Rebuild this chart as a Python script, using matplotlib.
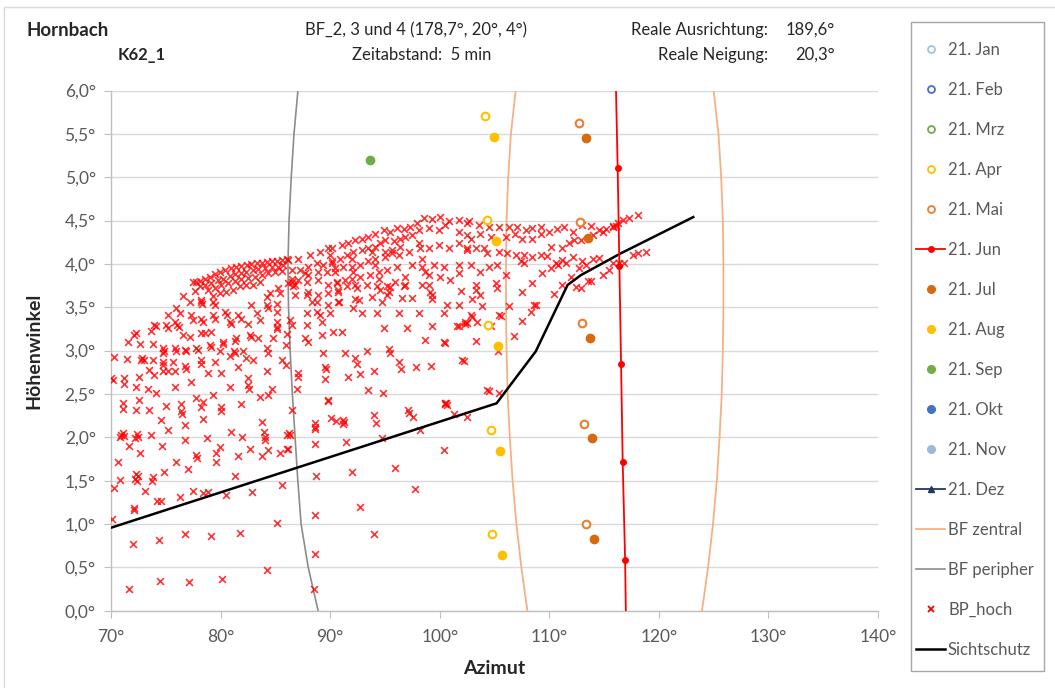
import matplotlib.pyplot as plt
from matplotlib.lines import Line2D
from matplotlib.patches import Rectangle
from matplotlib.ticker import FuncFormatter, MultipleLocator

plt.rcParams['font.family'] = ['Lato', 'DejaVu Sans']

# Sonnenpositionen (Azimut, Hoehenwinkel)
apr_az = [104.12, 104.34, 104.43, 104.64, 104.80]
apr_alt = [5.71, 4.51, 3.30, 2.08, 0.88]
mai_az = [112.73, 112.82, 113.00, 113.19, 113.34]
mai_alt = [5.63, 4.48, 3.32, 2.15, 1.00]
jun_az = [117.05, 116.92, 116.70, 116.55, 116.40, 116.24, 116.05]
jun_alt = [-0.55, 0.585, 1.71, 2.85, 3.98, 5.11, 6.24]
jul_az = [113.34, 113.50, 113.68, 113.86, 114.05]
jul_alt = [5.45, 4.30, 3.14, 1.99, 0.83]
aug_az = [104.95, 105.16, 105.35, 105.47, 105.65]
aug_alt = [5.46, 4.26, 3.05, 1.84, 0.64]
sep_az = [93.6]
sep_alt = [5.20]

# Blendfeld-Grenzen
bf_alt = [6.0, 5.5, 5.0, 4.5, 4.0, 3.5, 3.0, 2.5, 2.0, 1.5, 1.0, 0.5, 0.0]
bf_zentral_links = [106.93, 106.50, 106.25, 106.10, 106.05, 106.05, 106.10, 106.20, 106.40, 106.65, 107.00, 107.45, 108.00]
bf_zentral_rechts = [125.00, 125.44, 125.69, 125.84, 125.89, 125.89, 125.84, 125.74, 125.54, 125.29, 124.94, 124.49, 123.94]
bf_peripher = [87.06, 86.70, 86.45, 86.25, 86.15, 86.20, 86.35, 86.55, 86.80, 87.05, 87.35, 88.00, 88.90]

# Sichtschutz-Kante
sicht_az = [70.0, 105.19, 108.76, 111.67, 112.88, 116.5, 123.14]
sicht_alt = [0.957, 2.392, 2.99, 3.757, 3.87, 4.12, 4.54]

# BP_hoch Punkte (Azimut, Hoehenwinkel)
bp_hoch = [
    (71.07, 2.39), (71.07, 2.33), (72.29, 2.31), (73.51, 2.32), (75.04, 2.36), (76.4, 2.38), (76.4, 2.30),
    (76.45, 2.27), (78.24, 2.35), (78.4, 2.41), (80.07, 2.35), (80.07, 2.30), (81.9, 2.38),
    (74.58, 2.20), (76.72, 2.14), (78.4, 2.21), (75.19, 2.08), (70.8, 2.0), (70.95, 2.03), (71.1, 2.05),
    (71.2, 2.01), (72.2, 1.99), (72.35, 2.04), (72.45, 2.0), (73.66, 2.03), (71.68, 1.90), (72.69, 1.82),
    (74.64, 1.90), (76.72, 1.97), (78.79, 1.99), (80.99, 2.06), (82.0, 2.0), (83.74, 2.18), (84.0, 2.06),
    (84.04, 2.0), (84.1, 1.97), (86.03, 2.03),
    (79.92, 1.89), (79.62, 1.82), (79.62, 1.72), (81.6, 1.78), (82.67, 1.87), (84.29, 1.85), (83.74, 1.78),
    (85.42, 1.82), (86.03, 1.87), (70.61, 1.71), (77.75, 1.80), (77.85, 1.76), (75.95, 1.71), (77.02, 1.63),
    (74.82, 1.60), (72.2, 1.52), (72.3, 1.58), (72.4, 1.50), (72.45, 1.55), (73.8, 1.54), (73.7, 1.50),
    (70.82, 1.51), (70.3, 1.42), (73.11, 1.38), (77.48, 1.38), (78.4, 1.36), (78.85, 1.37), (76.26, 1.31),
    (74.2, 1.26), (74.6, 1.26), (81.3, 1.55), (80.53, 1.34), (82.88, 1.37), (85.57, 1.45), (72.14, 1.19),
    (72.14, 1.16), (70.06, 1.06), (85.11, 1.01), (72.05, 0.77), (74.34, 0.82), (76.72, 0.88), (79.1, 0.86),
    (81.81, 0.90), (84.2, 0.47), (71.68, 0.25), (74.49, 0.34), (77.08, 0.33), (80.17, 0.37),
    (86.54, 2.32), (89.84, 2.42), (88.6, 2.16), (88.6, 2.12), (88.65, 2.09), (90.08, 2.22), (90.51, 2.19),
    (91.2, 2.2), (91.2, 2.15), (91.3, 2.18), (94.02, 2.26), (94.17, 2.16), (97.07, 2.31), (97.23, 2.28),
    (97.53, 2.23), (100.46, 2.38), (100.6, 2.40), (100.67, 2.37), (101.28, 2.27), (102.5, 2.23), (86.2, 2.05),
    (86.33, 2.03), (86.11, 1.86), (88.6, 1.92), (91.46, 1.95), (94.72, 1.99), (98.23, 2.08), (100.37, 1.85),
    (88.68, 1.55), (91.98, 1.60), (95.94, 1.65), (97.71, 1.40), (92.74, 1.20), (88.62, 1.10), (93.96, 0.88),
    (88.62, 0.65), (88.56, 0.25),
    (77.5, 3.79), (77.8, 3.79), (78.1, 3.80), (78.55, 3.83), (79.0, 3.85), (79.46, 3.88), (79.92, 3.91),
    (80.38, 3.93), (80.99, 3.95), (81.45, 3.97), (81.91, 3.98), (82.37, 3.99), (82.82, 4.0), (83.28, 4.01),
    (83.74, 4.01), (84.2, 4.02), (84.65, 4.03), (85.11, 4.03), (85.57, 4.04), (86.03, 4.06),
    (78.09, 3.74), (78.55, 3.76), (79.16, 3.78), (79.77, 3.81), (80.23, 3.83), (80.84, 3.86), (81.3, 3.88),
    (81.91, 3.89), (82.36, 3.91), (82.97, 3.93), (83.43, 3.94), (84.04, 3.95), (84.65, 3.96), (85.26, 3.97),
    (85.72, 3.99),
    (77.63, 3.69), (78.85, 3.70), (79.46, 3.72), (80.07, 3.76), (80.68, 3.78), (81.3, 3.80), (81.91, 3.83),
    (82.52, 3.84), (83.13, 3.85), (83.74, 3.87), (84.35, 3.89), (84.96, 3.91), (85.57, 3.92),
    (76.56, 3.63), (78.24, 3.58), (79.31, 3.63), (79.92, 3.66), (80.53, 3.68), (81.14, 3.70), (81.75, 3.74),
    (82.36, 3.76), (82.97, 3.76), (83.58, 3.79), (84.2, 3.62), (84.5, 3.67), (85.26, 3.72), (85.42, 3.67),
    (77.17, 3.56), (78.24, 3.56), (78.3, 3.54), (79.3, 3.56), (79.46, 3.53), (75.95, 3.49), (76.26, 3.43),
    (75.19, 3.41), (77.33, 3.41), (77.48, 3.35), (78.24, 3.37), (78.4, 3.33), (79.3, 3.41), (79.46, 3.37),
    (80.38, 3.45), (80.62, 3.41), (81.6, 3.41), (81.9, 3.37), (82.52, 3.31), (83.58, 3.35), (85.11, 3.33),
    (85.11, 3.27), (85.15, 3.25), (85.11, 3.44), (85.11, 3.54), (84.2, 3.53), (84.35, 3.49), (83.28, 3.43),
    (82.82, 3.53), (80.84, 3.33), (80.99, 3.31),
    (73.97, 3.30), (74.12, 3.28), (75.04, 3.29), (75.19, 3.26), (76.04, 3.30), (76.17, 3.27), (72.29, 3.20),
    (72.14, 3.18), (73.66, 3.23), (75.8, 3.33),
    (76.56, 3.18), (77.17, 3.16), (78.24, 3.20), (78.55, 3.20), (79.16, 3.22), (80.23, 3.10), (80.25, 3.08),
    (81.45, 3.14), (81.36, 3.11), (82.67, 3.18), (82.82, 3.16), (83.43, 3.14), (84.8, 3.14), (86.03, 3.19),
    (71.53, 3.10), (72.69, 3.08), (73.82, 3.08), (74.73, 3.03), (74.88, 2.99), (74.75, 2.97), (75.8, 3.03),
    (75.95, 3.0), (76.72, 3.01), (76.87, 2.99), (77.78, 3.03), (77.94, 3.01), (79.0, 3.06), (79.16, 3.04),
    (79.92, 2.99), (81.3, 2.97), (81.25, 2.99), (82.06, 2.99), (70.3, 2.93), (71.47, 2.90), (72.8, 2.91),
    (73.0, 2.89), (72.75, 2.89), (73.82, 2.89), (74.73, 2.87), (74.73, 2.83), (75.65, 2.87), (76.72, 2.82),
    (76.87, 2.79), (78.24, 2.89), (78.24, 2.85), (79.46, 2.87), (80.84, 2.94), (81.6, 2.81), (82.36, 2.91),
    (84.2, 3.03), (84.35, 2.97), (82.97, 2.89), (85.57, 2.89),
    (70.0, 2.68), (70.15, 2.66), (71.22, 2.68), (71.22, 2.62), (72.6, 2.70), (72.29, 2.58), (73.51, 2.78),
    (73.97, 2.72), (74.73, 2.77), (75.19, 2.77), (75.8, 2.77), (77.33, 2.64), (78.85, 2.74), (80.07, 2.74),
    (80.84, 2.58), (82.52, 2.68), (82.52, 2.60), (82.55, 2.56), (84.2, 2.76), (84.65, 2.56), (73.36, 2.56),
    (74.12, 2.51), (75.8, 2.58), (77.78, 2.45), (79.3, 2.49), (83.58, 2.46), (84.35, 2.49), (72.6, 2.43),
    (98.54, 4.53), (99.3, 4.52), (100.06, 4.54), (100.83, 4.49), (101.74, 4.51), (102.5, 4.47), (97.93, 4.47),
    (97.32, 4.43), (96.71, 4.40), (96.1, 4.41), (95.49, 4.37), (94.88, 4.39), (94.11, 4.35), (93.5, 4.31),
    (92.89, 4.29), (92.28, 4.28), (91.67, 4.24), (91.06, 4.22), (90.14, 4.18), (89.08, 4.14), (88.16, 4.10),
    (87.09, 4.06), (86.18, 4.04),
    (99.0, 4.41), (99.91, 4.39), (100.52, 4.45), (101.74, 4.37), (102.5, 4.33), (98.08, 4.39), (97.47, 4.33),
    (96.86, 4.31), (96.4, 4.29), (95.79, 4.26), (95.03, 4.28), (94.57, 4.24), (94.11, 4.20), (93.5, 4.18),
    (92.89, 4.16), (92.13, 4.14), (91.52, 4.10), (90.91, 4.06), (90.14, 4.03), (89.38, 3.99), (88.77, 4.01),
    (88.01, 3.97), (87.24, 3.93), (86.48, 3.93),
    (98.08, 4.24), (99.0, 4.18), (99.91, 4.22), (100.83, 4.18), (101.74, 4.24), (102.5, 4.16), (97.16, 4.14),
    (96.4, 4.20), (95.64, 4.12), (95.03, 4.08), (94.11, 4.06), (93.5, 4.03), (92.74, 3.99), (91.98, 3.97),
    (91.21, 3.97), (90.45, 3.95), (89.69, 3.91), (88.92, 3.91), (88.01, 3.87), (87.09, 3.81), (86.48, 3.79),
    (97.47, 3.99), (98.38, 3.97), (99.45, 3.99), (100.37, 3.97), (101.74, 3.99), (99.0, 3.87), (100.06, 3.85),
    (100.98, 3.81), (101.74, 3.89), (96.1, 3.97), (95.18, 3.93), (94.42, 3.91), (93.65, 3.87), (92.74, 3.85),
    (91.98, 3.83), (91.36, 3.81), (90.6, 3.78), (89.84, 3.76), (88.92, 3.81),
    (96.86, 3.85), (95.94, 3.79), (95.18, 3.74), (94.27, 3.74), (93.35, 3.76), (92.28, 3.76), (91.52, 3.74),
    (90.75, 3.70), (89.84, 3.66), (88.92, 3.64), (87.85, 3.64), (86.79, 3.76), (86.18, 3.78),
    (98.38, 3.76), (99.15, 3.68), (101.9, 3.69),
    (99.3, 3.60), (97.47, 3.61), (96.55, 3.61), (95.49, 3.73), (93.81, 3.62), (92.28, 3.60), (90.75, 3.56),
    (89.84, 3.53), (88.77, 3.56), (87.85, 3.43), (86.33, 3.35),
    (101.74, 3.53), (100.68, 3.53), (98.08, 3.43), (96.25, 3.43), (94.27, 3.43), (92.89, 3.43), (92.13, 3.49),
    (89.99, 3.43), (89.23, 3.33), (87.85, 3.29), (87.7, 3.14), (86.48, 3.29),
    (94.88, 3.26), (97.01, 3.26), (98.69, 3.12), (100.37, 3.10), (101.74, 3.28), (102.35, 3.31), (90.3, 3.22),
    (91.06, 3.22), (89.23, 3.18), (88.01, 3.10),
    (89.38, 2.97), (91.36, 2.97), (93.35, 2.99), (95.33, 3.02), (95.49, 2.97), (89.53, 2.81), (89.6, 2.79),
    (87.09, 2.74), (87.09, 2.70), (92.28, 2.91), (92.43, 2.84), (93.96, 2.77), (92.74, 2.73), (96.25, 2.87),
    (96.49, 2.79), (97.84, 2.81), (99.24, 2.82), (102.05, 2.89), (89.53, 2.67), (91.67, 2.70), (86.94, 2.56),
    (93.5, 2.54), (94.78, 2.51), (89.84, 2.43), (100.52, 2.39), (86.0, 3.06), (86.0, 2.83),
    # diagonale Streifen im dichten Bereich
    (89.84, 4.18), (90.0, 4.10), (90.14, 4.01), (90.45, 3.91), (90.6, 3.79), (90.75, 3.68), (90.8, 3.56),
    (87.7, 3.89), (87.85, 3.79), (88.01, 3.68), (88.31, 3.56), (88.77, 3.45), (89.08, 3.41),
    (86.48, 3.83), (86.63, 3.74), (86.79, 3.64),
    (93.81, 4.14), (94.11, 3.99), (94.42, 3.83), (94.57, 3.70), (94.72, 3.56),
    (98.23, 4.18), (98.39, 4.06), (98.69, 3.91), (99.0, 3.76), (99.3, 3.64),
    (91.98, 4.06), (92.13, 3.91), (92.43, 3.72), (92.59, 3.58),
    (95.03, 4.14), (95.64, 4.16), (96.25, 4.10), (96.86, 3.76), (96.71, 3.74), (95.33, 3.68), (95.18, 3.64),
    (102.66, 4.49), (103.57, 4.45), (104.49, 4.43), (105.4, 4.42), (106.32, 4.43), (107.08, 4.43), (107.84, 4.39),
    (108.46, 4.41), (109.22, 4.43), (109.98, 4.37), (110.74, 4.40), (111.36, 4.43), (112.12, 4.37), (113.03, 4.45),
    (113.8, 4.44), (114.56, 4.39), (115.17, 4.40), (115.78, 4.43), (116.24, 4.47), (116.7, 4.51), (117.31, 4.53),
    (118.07, 4.56),
    (102.81, 4.29), (103.72, 4.34), (104.64, 4.31), (106.01, 4.31), (106.87, 4.35), (107.54, 4.29), (108.39, 4.29),
    (109.22, 4.34), (110.13, 4.20), (111.2, 4.18), (111.81, 4.24), (112.27, 4.28), (112.88, 4.28), (113.95, 4.33),
    (114.87, 4.37), (115.78, 4.44), (116.09, 4.44),
    (102.5, 4.18), (103.27, 4.18), (104.03, 4.18), (104.33, 4.12), (105.4, 4.14), (106.17, 4.12), (106.93, 4.10),
    (107.69, 4.10), (108.46, 4.08), (109.22, 4.10), (109.83, 4.09), (110.59, 4.01), (111.2, 4.04), (112.12, 4.08),
    (113.03, 4.03), (113.95, 4.06), (114.56, 4.07), (115.78, 4.01), (116.39, 4.01), (116.85, 4.01), (117.61, 4.10),
    (118.07, 4.12), (118.83, 4.14),
    (102.81, 3.99), (103.72, 3.91), (104.49, 3.97), (105.25, 3.99), (106.01, 3.87), (107.39, 4.03), (107.69, 4.01),
    (109.37, 3.89), (110.13, 3.95), (110.84, 3.99), (111.51, 4.01), (112.73, 3.95), (113.34, 3.99),
    (111.97, 3.85), (112.42, 3.73), (112.88, 3.72), (113.49, 3.80), (113.8, 3.80), (114.87, 3.87), (115.48, 3.93),
    (103.27, 3.76), (103.27, 3.70), (105.1, 3.78), (105.25, 3.72), (107.54, 3.68), (108.46, 3.78), (110.44, 3.65),
    (111.2, 3.76),
    (102.96, 3.60), (103.72, 3.64), (103.88, 3.51), (106.32, 3.52), (108.61, 3.53), (108.76, 3.53), (108.3, 3.45),
    (107.54, 3.34), (102.81, 3.41), (103.42, 3.33), (105.4, 3.41), (106.78, 3.17), (103.27, 3.11), (104.64, 3.28),
    (102.35, 3.33), (105.34, 2.99), (104.33, 2.54), (104.49, 2.53), (105.4, 2.51),
    (105.56, 3.40), (102.2, 2.88), (99.3, 3.28), (100.37, 3.43), (101.59, 3.28), (102.5, 3.32), (102.96, 3.39),
    (100.52, 3.09),
]

x_ticks = [70, 80, 90, 100, 110, 120, 130, 140]

W, H = 1055, 688
fig = plt.figure(figsize=(W / 100, H / 100), dpi=100)
ax = fig.add_axes([111 / W, 1 - 610.7 / H, 767 / W, 520.2 / H])

grey_txt = '#595959'

# Blendfeld-Kurven
ax.plot(bf_zentral_links, bf_alt, color='#F4B183', lw=1.3, zorder=2)
ax.plot(bf_zentral_rechts, bf_alt, color='#F4B183', lw=1.3, zorder=2)
ax.plot(bf_peripher, bf_alt, color='#8C8C8C', lw=1.2, zorder=2)

# BP_hoch
bp_az = [p[0] for p in bp_hoch]
bp_alt = [p[1] for p in bp_hoch]
ax.scatter(bp_az, bp_alt, marker='x', s=24, color='#FF0000', linewidths=1.2, alpha=0.8, zorder=3)

# Sichtschutz
ax.plot(sicht_az, sicht_alt, color='black', lw=1.8, zorder=4)

# Monate
ax.plot(apr_az, apr_alt, 'o', ms=5.5, mfc='white', mec='#FFC000', mew=1.5, zorder=5)
ax.plot(aug_az, aug_alt, 'o', ms=6, color='#FFC000', zorder=5)
ax.plot(mai_az, mai_alt, 'o', ms=5.5, mfc='white', mec='#ED7D31', mew=1.5, zorder=5)
ax.plot(jul_az, jul_alt, 'o', ms=6, color='#D9690F', zorder=5)
ax.plot(sep_az, sep_alt, 'o', ms=6, color='#70AD47', zorder=5)
ax.plot(jun_az, jun_alt, '-o', color='#FF0000', lw=1.3, ms=4, zorder=5)

ax.set_xlim(70, 140)
ax.set_ylim(0, 6)
ax.set_xticks(x_ticks)
ax.xaxis.set_major_formatter(FuncFormatter(lambda v, _: f"{v:.0f}°"))
ax.yaxis.set_major_locator(MultipleLocator(0.5))
ax.yaxis.set_major_formatter(FuncFormatter(lambda v, _: f"{v:.1f}°".replace('.', ',')))
ax.yaxis.grid(True, color='#D9D9D9', lw=1.0)
ax.set_axisbelow(True)
for s in ['top', 'right']:
    ax.spines[s].set_visible(False)
for s in ['left', 'bottom']:
    ax.spines[s].set_color('#BFBFBF')
    ax.spines[s].set_linewidth(1.0)
ax.tick_params(length=5, color='#BFBFBF', labelsize=12.5, labelcolor=grey_txt)
ax.tick_params(axis='x', pad=8)
ax.tick_params(axis='y', pad=6)

ax.set_xlabel('Azimut', fontsize=14, fontweight='bold', color='#262626', labelpad=11)
ax.set_ylabel('Höhenwinkel', fontsize=14, fontweight='bold', color='#262626', labelpad=16)

# Kopfzeilen
fig.text(27 / W, 1 - 30 / H, 'Hornbach', fontsize=13.5, fontweight='bold', va='center', color='#262626')
fig.text(118 / W, 1 - 55 / H, 'K62_1', fontsize=12, fontweight='bold', va='center', color='#262626')
fig.text(305 / W, 1 - 30 / H, 'BF_2, 3 und 4 (178,7°, 20°, 4°)', fontsize=12, va='center', color='#262626')
fig.text(352 / W, 1 - 55 / H, 'Zeitabstand:  5 min', fontsize=12, va='center', color='#262626')
fig.text(768 / W, 1 - 30 / H, 'Reale Ausrichtung:', fontsize=12, va='center', ha='right', color='#262626')
fig.text(835 / W, 1 - 30 / H, '189,6°', fontsize=12, va='center', ha='right', color='#262626')
fig.text(768 / W, 1 - 55 / H, 'Reale Neigung:', fontsize=12, va='center', ha='right', color='#262626')
fig.text(835 / W, 1 - 55 / H, '20,3°', fontsize=12, va='center', ha='right', color='#262626')

# Rahmen des Diagramms und der Legende
fig.add_artist(Rectangle((4 / W, -0.05), 1.2, 1 - 7 / H + 0.05, transform=fig.transFigure,
                         fill=False, ec='#D9D9D9', lw=1.0))
fig.add_artist(Rectangle((911 / W, 1 - 671 / H), 133 / W, 649 / H, transform=fig.transFigure,
                         fill=False, ec='#A6A6A6', lw=1.0))

# Legende
handles = [
    Line2D([], [], ls='', marker='o', ms=5, mfc='white', mec='#9DC3E6', mew=1.3),
    Line2D([], [], ls='', marker='o', ms=5, mfc='white', mec='#4472C4', mew=1.3),
    Line2D([], [], ls='', marker='o', ms=5, mfc='white', mec='#70AD47', mew=1.3),
    Line2D([], [], ls='', marker='o', ms=5, mfc='white', mec='#FFC000', mew=1.3),
    Line2D([], [], ls='', marker='o', ms=5, mfc='white', mec='#ED7D31', mew=1.3),
    Line2D([], [], color='#FF0000', lw=1.3, marker='o', ms=4),
    Line2D([], [], ls='', marker='o', ms=5.5, color='#D9690F'),
    Line2D([], [], ls='', marker='o', ms=5.5, color='#FFC000'),
    Line2D([], [], ls='', marker='o', ms=5.5, color='#70AD47'),
    Line2D([], [], ls='', marker='o', ms=5.5, color='#4472C4'),
    Line2D([], [], ls='', marker='o', ms=5.5, color='#9DB9DD'),
    Line2D([], [], color='#1F3864', lw=1.3, marker='^', ms=4),
    Line2D([], [], color='#F4B183', lw=1.3),
    Line2D([], [], color='#8C8C8C', lw=1.2),
    Line2D([], [], ls='', marker='x', ms=5, color='#FF0000', mew=1.3),
    Line2D([], [], color='black', lw=1.8),
]
labels = ['21. Jan', '21. Feb', '21. Mrz', '21. Apr', '21. Mai', '21. Jun', '21. Jul', '21. Aug',
          '21. Sep', '21. Okt', '21. Nov', '21. Dez', 'BF zentral', 'BF peripher', 'BP_hoch', 'Sichtschutz']
leg = fig.legend(handles, labels, loc='upper left', bbox_to_anchor=(916 / W, 1 - 42 / H),
                 frameon=False, fontsize=12, labelspacing=1.44, handlelength=1.74,
                 handletextpad=0.18, borderpad=0, borderaxespad=0)
for t in leg.get_texts():
    t.set_color(grey_txt)

fig.savefig('out.png', dpi=100)
